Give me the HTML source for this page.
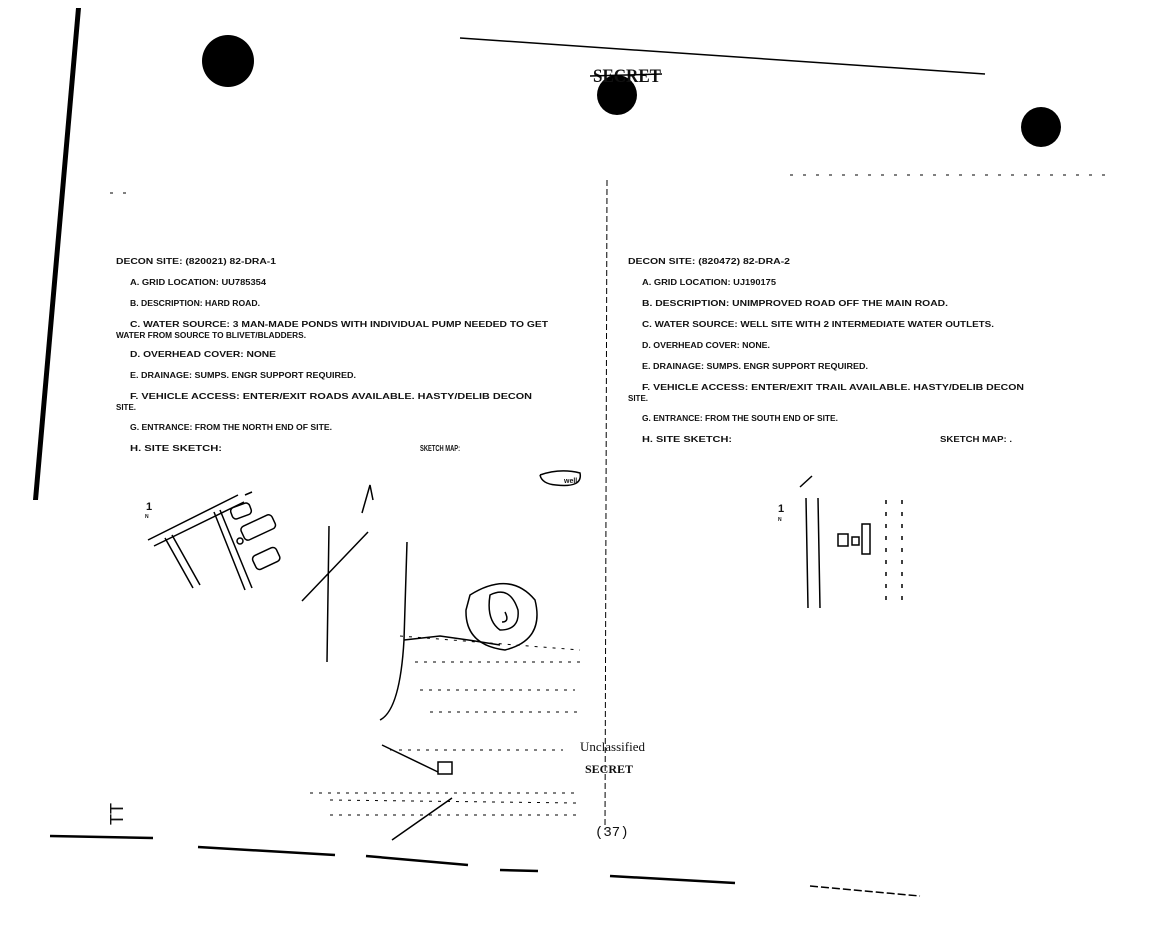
<!DOCTYPE html>
<html><head><style>
html,body{margin:0;padding:0;background:#fff;width:1160px;height:928px;overflow:hidden}
svg text{font-family:"Liberation Sans",sans-serif;font-weight:bold;font-size:8px;fill:#111}
</style></head><body>
<svg width="1160" height="928" viewBox="0 0 1160 928" xmlns="http://www.w3.org/2000/svg">
<rect width="1160" height="928" fill="#fff"/>
<polygon points="76,8 81,8 38,500 33,500" fill="#000"/>
<line x1="460" y1="38" x2="985" y2="74" stroke="#000" stroke-width="1.5"/>
<circle cx="228" cy="61" r="26" fill="#000"/>
<circle cx="617" cy="95" r="20" fill="#000"/>
<circle cx="1041" cy="127" r="20" fill="#000"/>
<text x="593" y="82" style="font-size:19px;font-family:'Liberation Serif',serif" textLength="68" lengthAdjust="spacingAndGlyphs">SECRET</text>
<line x1="590" y1="76" x2="662" y2="74" stroke="#000" stroke-width="1.5"/>
<line x1="607" y1="180" x2="605" y2="830" stroke="#000" stroke-width="1" stroke-dasharray="6,3"/>
<g>
<text x="116" y="264" textLength="160" lengthAdjust="spacingAndGlyphs">DECON SITE:  (820021)  82-DRA-1</text>
<text x="130" y="285" textLength="136" lengthAdjust="spacingAndGlyphs">A.  GRID LOCATION:  UU785354</text>
<text x="130" y="306" textLength="130" lengthAdjust="spacingAndGlyphs">B.  DESCRIPTION:  HARD ROAD.</text>
<text x="130" y="327" textLength="418" lengthAdjust="spacingAndGlyphs">C.  WATER SOURCE:  3 MAN-MADE PONDS WITH INDIVIDUAL PUMP NEEDED TO GET</text>
<text x="116" y="338" textLength="190" lengthAdjust="spacingAndGlyphs">WATER FROM SOURCE TO BLIVET/BLADDERS.</text>
<text x="130" y="357" textLength="146" lengthAdjust="spacingAndGlyphs">D.  OVERHEAD COVER:  NONE</text>
<text x="130" y="378" textLength="226" lengthAdjust="spacingAndGlyphs">E.  DRAINAGE:  SUMPS.  ENGR SUPPORT REQUIRED.</text>
<text x="130" y="399" textLength="402" lengthAdjust="spacingAndGlyphs">F.  VEHICLE ACCESS:  ENTER/EXIT ROADS AVAILABLE.  HASTY/DELIB DECON</text>
<text x="116" y="410">SITE.</text>
<text x="130" y="430" textLength="202" lengthAdjust="spacingAndGlyphs">G.  ENTRANCE:  FROM THE NORTH END OF SITE.</text>
<text x="130" y="451" textLength="92" lengthAdjust="spacingAndGlyphs">H.  SITE SKETCH:</text>
<text x="420" y="451" textLength="40" lengthAdjust="spacingAndGlyphs">SKETCH MAP:</text>
<text x="628" y="264" textLength="162" lengthAdjust="spacingAndGlyphs">DECON SITE:  (820472)  82-DRA-2</text>
<text x="642" y="285" textLength="134" lengthAdjust="spacingAndGlyphs">A.  GRID LOCATION:  UJ190175</text>
<text x="642" y="306" textLength="306" lengthAdjust="spacingAndGlyphs">B.  DESCRIPTION:  UNIMPROVED ROAD OFF THE MAIN ROAD.</text>
<text x="642" y="327" textLength="352" lengthAdjust="spacingAndGlyphs">C.  WATER SOURCE:  WELL SITE WITH 2 INTERMEDIATE WATER OUTLETS.</text>
<text x="642" y="348" textLength="128" lengthAdjust="spacingAndGlyphs">D.  OVERHEAD COVER:  NONE.</text>
<text x="642" y="369" textLength="226" lengthAdjust="spacingAndGlyphs">E.  DRAINAGE:  SUMPS.  ENGR SUPPORT REQUIRED.</text>
<text x="642" y="390" textLength="382" lengthAdjust="spacingAndGlyphs">F.  VEHICLE ACCESS:  ENTER/EXIT TRAIL AVAILABLE.  HASTY/DELIB DECON</text>
<text x="628" y="401">SITE.</text>
<text x="642" y="421" textLength="196" lengthAdjust="spacingAndGlyphs">G.  ENTRANCE:  FROM THE SOUTH END OF SITE.</text>
<text x="642" y="442" textLength="90" lengthAdjust="spacingAndGlyphs">H.  SITE SKETCH:</text>
<text x="940" y="442" textLength="72" lengthAdjust="spacingAndGlyphs">SKETCH MAP:  .</text>
</g>
<g stroke="#000" fill="none" stroke-width="1.5">
<path d="M148,540 L238,495 M154,546 L244,502 M245,495 L252,492"/>
<path d="M165,538 L193,588 M172,535 L200,585"/>
<path d="M214,512 L245,590 M220,510 L252,588"/>
<rect x="231" y="505" width="20" height="12" rx="4" transform="rotate(-20 241 511)"/>
<rect x="241" y="520" width="34" height="15" rx="4" transform="rotate(-25 258 527)"/>
<rect x="253" y="551" width="26" height="15" rx="4" transform="rotate(-25 266 558)"/>
<circle cx="240" cy="541" r="3"/>
<path d="M329,526 L327,662 M302,601 L368,532"/>
<path d="M362,513 L370,485 L373,500"/>
<path d="M407,542 L404,640 Q400,710 380,720"/>
<path d="M404,640 L440,636 Q470,640 500,645"/>
<path d="M470,595 Q510,570 535,600 Q545,640 505,650 Q465,645 466,610 Z"/>
<path d="M490,595 Q510,585 518,610 Q520,630 500,630 Q486,620 490,595 Z"/>
<path d="M505,612 Q510,622 502,622"/>
<path d="M382,745 L438,772 M392,840 L452,798"/>
<rect x="438" y="762" width="14" height="12"/>
<path d="M540,475 Q560,468 580,473 Q583,488 556,485 Q542,484 540,475"/>
</g>
<text x="564" y="483" style="font-size:7px">well</text>
<text x="146" y="510" style="font-size:11px">1</text>
<text x="145" y="518" style="font-size:5px">N</text>
<g stroke="#000" stroke-width="1" stroke-dasharray="3,6">
<line x1="415" y1="662" x2="580" y2="662"/>
<line x1="420" y1="690" x2="575" y2="690"/>
<line x1="430" y1="712" x2="580" y2="712"/>
<line x1="390" y1="750" x2="563" y2="750"/>
<line x1="310" y1="793" x2="577" y2="793"/>
<line x1="330" y1="800" x2="577" y2="803"/>
<line x1="330" y1="815" x2="577" y2="815"/>
<line x1="400" y1="636" x2="580" y2="650"/>
</g>
<text x="580" y="751" style="font-family:'Liberation Serif',serif;font-size:13px;font-weight:normal">Unclassified</text>
<text x="585" y="773" style="font-family:'Liberation Serif',serif;font-size:12px">SECRET</text>
<text x="595" y="836" style="font-family:'Liberation Mono',monospace;font-size:14px;font-weight:normal">(37)</text>
<text x="108" y="826" style="font-size:18px;font-weight:normal" transform="rotate(-90 115 818)">TT</text>
<g stroke="#000" fill="none" stroke-width="1.5">
<path d="M806,498 L808,608 M818,498 L820,608"/>
<rect x="838" y="534" width="10" height="12"/>
<rect x="852" y="537" width="7" height="8"/>
<rect x="862" y="524" width="8" height="30"/>
<path d="M800,487 L812,476"/>
</g>
<g stroke="#000" stroke-width="1.5" stroke-dasharray="4,8">
<line x1="886" y1="500" x2="886" y2="605"/><line x1="902" y1="500" x2="902" y2="605"/>
</g>
<text x="778" y="512" style="font-size:11px">1</text>
<text x="778" y="521" style="font-size:5px">N</text>
<g stroke="#000" stroke-width="2.5">
<line x1="50" y1="836" x2="153" y2="838"/>
<line x1="198" y1="847" x2="335" y2="855"/>
<line x1="366" y1="856" x2="468" y2="865"/>
<line x1="500" y1="870" x2="538" y2="871"/>
<line x1="610" y1="876" x2="735" y2="883"/>
<line x1="810" y1="886" x2="920" y2="896" stroke-width="1.5" stroke-dasharray="8,3"/>
</g>
<g stroke="#000" stroke-width="1" stroke-dasharray="3,10">
<line x1="790" y1="175" x2="1110" y2="175"/>
<line x1="110" y1="193" x2="130" y2="193"/>
</g>
</svg>
</body></html>
